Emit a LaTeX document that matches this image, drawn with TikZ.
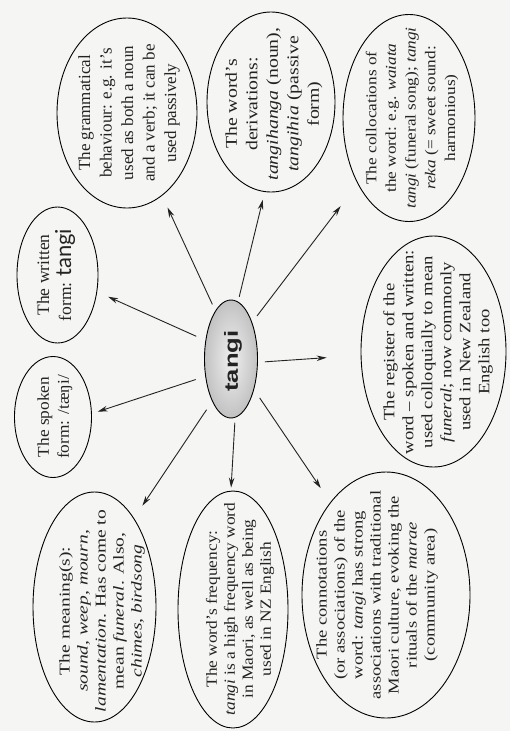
\documentclass[tikz,border=0pt]{standalone}
\usepackage{fontspec}
\setmainfont{Liberation Serif}
\newfontfamily\sansb{Liberation Sans}
\newfontfamily\handf{Lato}
\usetikzlibrary{arrows.meta,shapes.geometric}
\definecolor{paper}{RGB}{245,245,243}
\definecolor{ink}{RGB}{35,35,35}
\begin{document}
\begin{tikzpicture}[x=1pt,y=-1pt,
  bub/.style={ellipse, draw=black, line width=0.9pt, inner sep=0pt},
  txt/.style={rotate=90, align=center, inner sep=0pt, text=ink},
  arr/.style={draw=ink, line width=0.9pt, -{Stealth[length=10pt,width=5.5pt]}}]
\fill[paper] (0,0) rectangle (510,731);
\useasboundingbox (0,0) rectangle (510,731);

% ellipses
\node[bub, minimum width=140pt, minimum height=190pt] (gram) at (127,113) {};
\node[bub, minimum width=128pt, minimum height=180pt] (deriv) at (271,102) {};
\node[bub, minimum width=132pt, minimum height=207pt] (coll) at (409,118) {};
\node[bub, minimum width=81pt, minimum height=136pt] (writ) at (57.5,275) {};
\node[bub, minimum width=77pt, minimum height=121pt] (spok) at (53,417) {};
\node[bub, minimum width=145pt, minimum height=231pt] (reg) at (433.5,351.5) {};
\node[bub, minimum width=123pt, minimum height=230pt] (mean) at (94.5,607) {};
\node[bub, minimum width=110pt, minimum height=237pt] (freq) at (233,609.5) {};
\node[bub, minimum width=168pt, minimum height=246pt] (conn) at (386,595) {};
\node[bub, minimum width=53pt, minimum height=118pt, inner color=gray!12, outer color=gray!48] (tangi) at (231,359) {};

% texts
\node[txt, xscale=1.35, font=\sansb\bfseries\fontsize{19}{22}\selectfont] (tangiT) at (233,361) {tangi};
\node[txt, xscale=1.0, font=\fontsize{17}{21.5}\selectfont] (gramT) at (129,113)
  {The grammatical\\ behaviour: e.g. it's\\ used as both a noun\\ and a verb; it can be\\ used passively};
\node[txt, xscale=1.2, font=\fontsize{16.5}{20.5}\selectfont] (derivT) at (274,104)
  {The word's\\ derivations:\\ \textit{tangihanga} (noun),\\ \textit{tangihia} (passive\\ form)};
\node[txt, xscale=1.15, font=\fontsize{15}{19.7}\selectfont] (collT) at (412,118)
  {The collocations of\\ the word: e.g. \textit{waiata}\\ \textit{tangi} (funeral song); \textit{tangi}\\ \textit{reka} (= sweet sound:\\ harmonious)};
\node[txt, xscale=1.0, font=\fontsize{17.5}{22}\selectfont] (writT) at (56,275)
  {The written\\ form: {\handf\fontsize{22}{22}\selectfont tangi}};
\node[txt, xscale=1.05, font=\fontsize{16.5}{20}\selectfont] (spokT) at (55,417)
  {The spoken\\ form: /tæŋi/};
\node[txt, xscale=1.18, font=\fontsize{15.8}{19}\selectfont] (regT) at (438,352)
  {The register of the\\ word – spoken and written:\\ used colloquially to mean\\ \textit{funeral}; now commonly\\ used in New Zealand\\ English too};
\node[txt, xscale=1.3, font=\fontsize{15}{18}\selectfont] (meanT) at (102,611)
  {The meaning(s):\\ \textit{sound, weep, mourn,}\\ \textit{lamentation}. Has come to\\ mean \textit{funeral}. Also,\\ \textit{chimes, birdsong}};
\node[txt, xscale=1.12, font=\fontsize{15.5}{18}\selectfont] (freqT) at (240,609)
  {The word's frequency:\\ \textit{tangi} is a high frequency word\\ in Maori, as well as being\\ used in NZ English};
\node[txt, xscale=1.24, font=\fontsize{15}{18}\selectfont] (connT) at (377,595)
  {The connotations\\ (or associations) of the\\ word: \textit{tangi} has strong\\ associations with traditional\\ Maori culture, evoking the\\ rituals of the \textit{marae}\\ (community area)};

% arrows
\draw[arr, shorten <=7pt, shorten >=13pt] (tangi.108) -- (gram.-67);
\draw[arr, shorten <=5pt, shorten >=8pt] (tangi.83) -- (deriv.-94);
\draw[arr, shorten <=8pt, shorten >=28pt] (tangi.60) -- (coll.-128);
\draw[arr, shorten <=7pt, shorten >=34pt] (tangi.-7) -- (reg.-177);
\draw[arr, shorten <=10pt, shorten >=17pt] (tangi.-53) -- (conn.121);
\draw[arr, shorten <=5pt, shorten >=3pt] (tangi.-86) -- (freq.91);
\draw[arr, shorten <=10pt, shorten >=15pt] (tangi.-114) -- (mean.66);
\draw[arr, shorten <=10pt, shorten >=6pt] (tangi.-146) -- (spok.5);
\draw[arr, shorten <=10pt, shorten >=12pt] (tangi.144) -- (writ.-23);
\end{tikzpicture}
\end{document}
